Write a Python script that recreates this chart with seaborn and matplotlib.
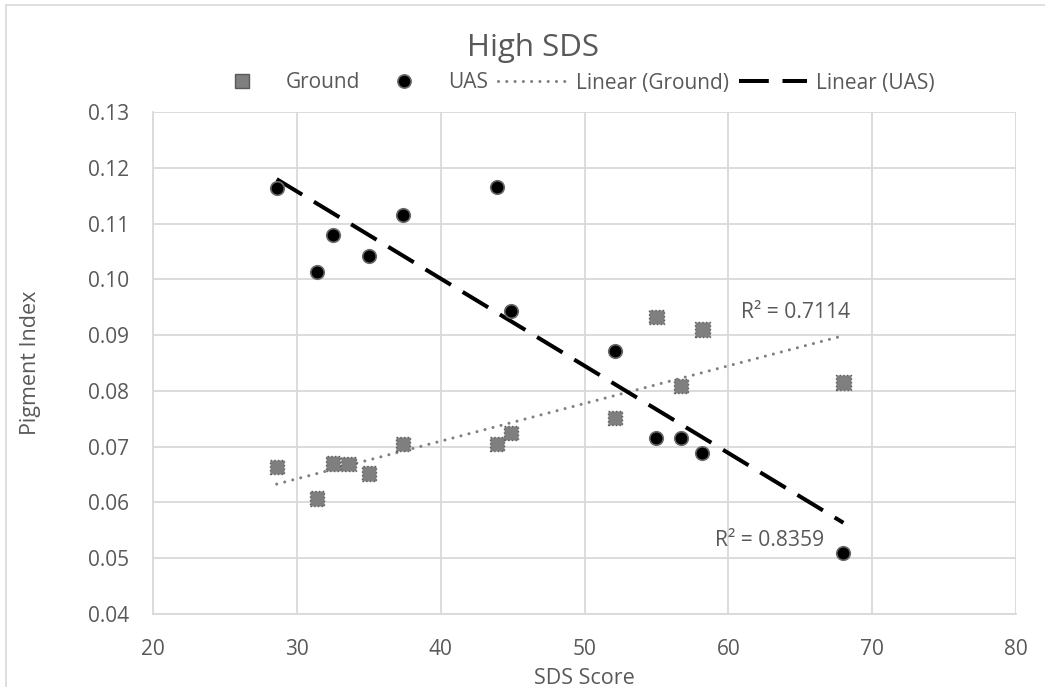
import matplotlib
matplotlib.use("Agg")
import matplotlib.pyplot as plt
import seaborn as sns
import pandas as pd
from matplotlib.lines import Line2D
from matplotlib.patches import Rectangle

# ---- data ----
sds_ground = [28.6, 31.4, 32.5, 33.6, 35.0, 37.4, 43.9, 44.9, 52.1, 55.0, 56.7, 58.2, 68.0]
pigment_ground = [0.0663, 0.0607, 0.0670, 0.0669, 0.0652, 0.0705, 0.0705, 0.0725,
                  0.0752, 0.0933, 0.0809, 0.0910, 0.0815]
sds_uas = [28.6, 31.4, 32.5, 35.0, 37.4, 43.9, 44.9, 52.1, 55.0, 56.7, 58.2, 68.0]
pigment_uas = [0.1163, 0.1013, 0.1079, 0.1042, 0.1115, 0.1165, 0.0943, 0.0872,
               0.0715, 0.0716, 0.0688, 0.0509]
r2_ground_label = "R² = 0.7114"
r2_uas_label = "R² = 0.8359"
x_ticks = [20, 30, 40, 50, 60, 70, 80]
y_ticks = [0.04, 0.05, 0.06, 0.07, 0.08, 0.09, 0.10, 0.11, 0.12, 0.13]
title = "High SDS"
x_label = "SDS Score"
y_label = "Pigment Index"
legend_labels = ["Ground", "UAS", "Linear (Ground)", "Linear (UAS)"]

df_g = pd.DataFrame({"x": sds_ground, "y": pigment_ground})
df_u = pd.DataFrame({"x": sds_uas, "y": pigment_uas})

sns.set_theme(style="white")
plt.rcParams["font.family"] = ["Open Sans", "DejaVu Sans"]
TXT = "#595959"
GRID = "#d9d9d9"
W, H = 1045, 687

fig = plt.figure(figsize=(10.45, 6.87), dpi=100)
ax = fig.add_axes([153 / W, 1 - 614 / H, (1016 - 153) / W, (614 - 112) / H])

dot_style = dict(color="#7f7f7f", lw=2.2, linestyle=(0, (0.01, 2.7)), dash_capstyle="round")
dash_style = dict(color="black", lw=2.9, linestyle=(0, (7.4, 3.4)))

# trend lines
sns.regplot(data=df_g, x="x", y="y", ax=ax, scatter=False, ci=None, truncate=True,
            line_kws=dict(zorder=2, **dot_style))
sns.regplot(data=df_u, x="x", y="y", ax=ax, scatter=False, ci=None, truncate=True,
            line_kws=dict(zorder=2, **dash_style))

# points
sns.scatterplot(data=df_g, x="x", y="y", ax=ax, marker="s", s=105, color="#7f7f7f",
                edgecolor="#5a5a5a", linewidth=1.0, linestyle=":", zorder=3)
sns.scatterplot(data=df_u, x="x", y="y", ax=ax, marker="o", s=95, color="black",
                edgecolor="#6a6a6a", linewidth=1.2, zorder=4)

ax.set_xlim(20, 80)
ax.set_ylim(0.04, 0.13)
ax.set_xticks(x_ticks)
ax.set_yticks(y_ticks)
ax.set_yticklabels([f"{v:.2f}" for v in y_ticks])
ax.grid(True, color=GRID, lw=1.3)
ax.set_axisbelow(True)
for side in ["top", "right"]:
    ax.spines[side].set_visible(False)
for side in ["left", "bottom"]:
    ax.spines[side].set_color(GRID)
    ax.spines[side].set_linewidth(1.3)
ax.tick_params(axis="both", length=0, labelcolor=TXT, labelsize=15)
ax.tick_params(axis="y", pad=17)
ax.tick_params(axis="x", pad=18)
ax.set_xlabel(x_label, fontsize=15.5, color=TXT)
ax.set_ylabel(y_label, fontsize=15.5, color=TXT)
ax.xaxis.set_label_coords(0.5, (614 - 678) / 502)
ax.xaxis.label.set_verticalalignment("center")
ax.yaxis.set_label_coords((31 - 153) / 863, 0.5)
ax.yaxis.label.set_verticalalignment("center")

ax.text(64.65, 0.0940, r2_ground_label, fontsize=15.2, color=TXT, ha="center", va="center")
ax.text(62.9, 0.0532, r2_uas_label, fontsize=15.2, color=TXT, ha="center", va="center")

fig.text(533 / W, 1 - 48 / H, title, fontsize=22.5, color=TXT, ha="center", va="center")

handles = [
    Line2D([], [], marker="s", ls="none", markersize=10, markerfacecolor="#7f7f7f",
           markeredgecolor="#5a5a5a", markeredgewidth=1.0),
    Line2D([], [], marker="o", ls="none", markersize=9.5, markerfacecolor="black",
           markeredgecolor="#6a6a6a", markeredgewidth=1.2),
    Line2D([], [], **dot_style),
    Line2D([], [], **dash_style),
]
fig.legend(handles, legend_labels, loc="center left", bbox_to_anchor=(208 / W, 1 - 83 / H),
           ncol=4, frameon=False, fontsize=15, labelcolor=TXT, handlelength=3.3,
           columnspacing=0.48, handletextpad=0.43, borderpad=0, borderaxespad=0)

fig.add_artist(Rectangle((6 / W, -0.02), 1.05, 1.02 - 5 / H + 0.0, transform=fig.transFigure,
                         fill=False, edgecolor=GRID, lw=1.2))

fig.savefig("out.png", dpi=100, facecolor="white")
